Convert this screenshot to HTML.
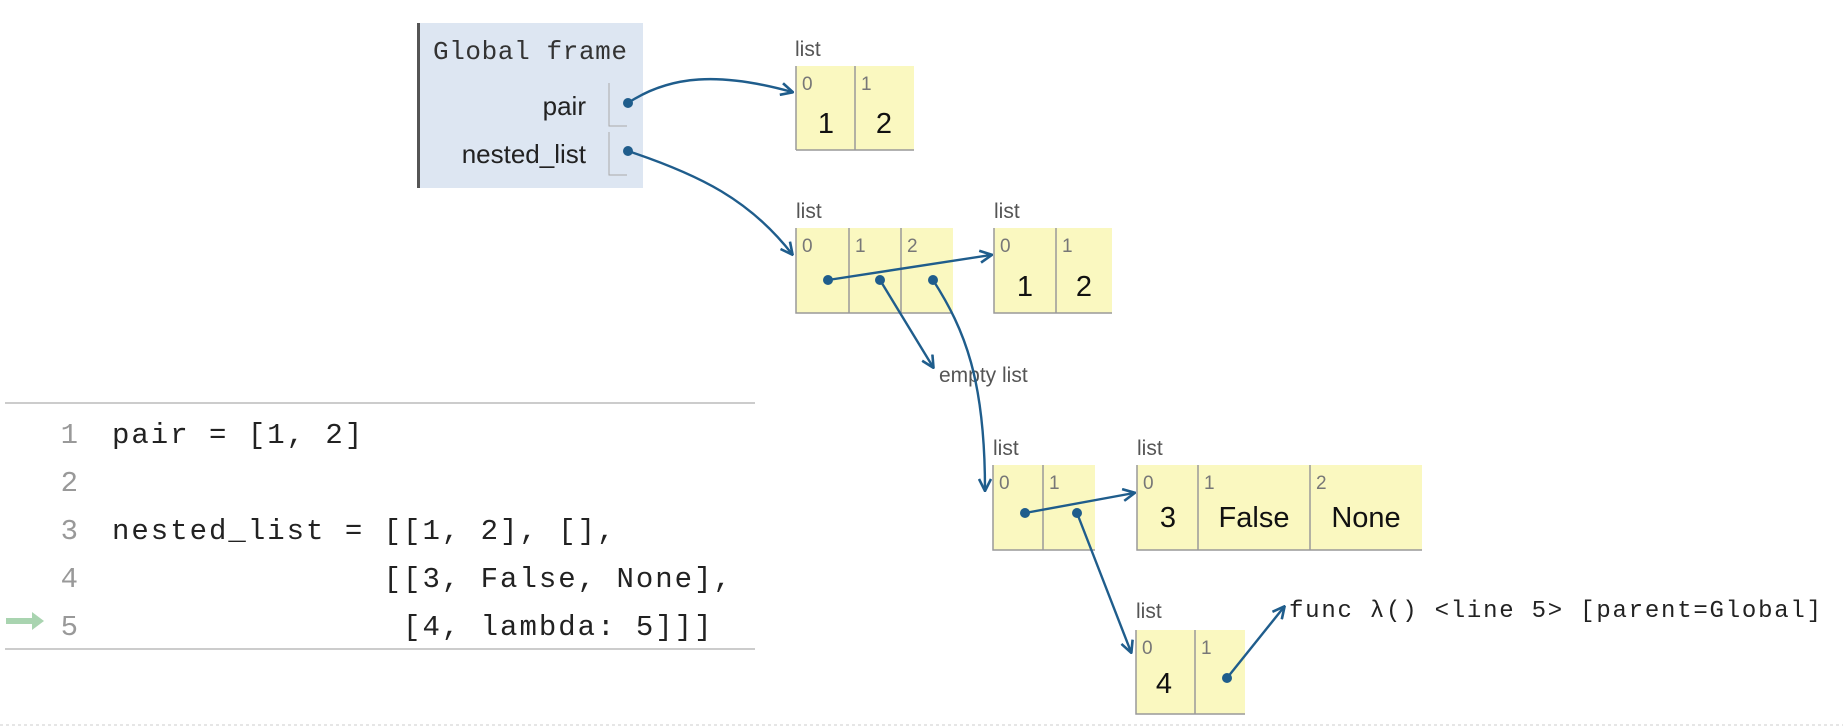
<!DOCTYPE html>
<html><head><meta charset="utf-8"><style>
html,body{margin:0;padding:0;background:#fff;width:1843px;height:728px;overflow:hidden}
svg{display:block}
.mono{font-family:"Liberation Mono",monospace}
.sans{font-family:"Liberation Sans",sans-serif}
.pre{white-space:pre}
</style></head><body>
<svg width="1843" height="728" viewBox="0 0 1843 728" xmlns="http://www.w3.org/2000/svg">
<defs>
<marker id="ah" viewBox="0 0 14 14" refX="12" refY="7" markerWidth="14" markerHeight="14" markerUnits="userSpaceOnUse" orient="auto">
<path d="M1,1 L13,7 L1,13" fill="none" stroke="#1f5d8c" stroke-width="2.6"/>
</marker>
</defs>
<!-- code panel -->
<line x1="5" y1="403" x2="755" y2="403" stroke="#ccc" stroke-width="2"/>
<line x1="5" y1="649" x2="755" y2="649" stroke="#ccc" stroke-width="2"/>
<line x1="0" y1="725" x2="1843" y2="725" stroke="#ddd" stroke-width="1.5" stroke-dasharray="3,3"/>
<g class="mono" font-size="29" fill="#999" text-anchor="end">
<text x="78" y="443">1</text><text x="78" y="491">2</text><text x="78" y="539">3</text><text x="78" y="587">4</text><text x="78" y="635">5</text>
</g>
<g class="mono pre" font-size="29" fill="#222" letter-spacing="2">
<text x="112" y="443" class="pre">pair = [1, 2]</text>
<text x="112" y="539" class="pre">nested_list = [[1, 2], [],</text>
<text x="112" y="587" class="pre">              [[3, False, None],</text>
<text x="112" y="635" class="pre">               [4, lambda: 5]]]</text>
</g>
<path d="M6,621 L34,621" stroke="#a9d4b0" stroke-width="6"/>
<path d="M32,612 L44,621 L32,630 Z" fill="#a9d4b0"/>

<!-- global frame -->
<rect x="417" y="23" width="226" height="165" fill="#dde6f2"/>
<rect x="417" y="23" width="3" height="165" fill="#555"/>
<text x="433" y="59" class="mono" font-size="26" fill="#333" textLength="194">Global frame</text>
<text x="586" y="115" class="sans" font-size="26" fill="#222" text-anchor="end">pair</text>
<text x="586" y="163" class="sans" font-size="26" fill="#222" text-anchor="end">nested_list</text>
<path d="M609,83 V126 H627 M609,132 V175 H627" fill="none" stroke="#aaa" stroke-width="1"/>

<g class="sans">
<!-- list1 -->
<text x="795" y="56" font-size="21" fill="#555">list</text>
<rect x="796" y="66" width="118" height="84" fill="#faf8c0"/>
<path d="M855,66 V150 M796,66 V150 M796,150 H914" stroke="#999" stroke-width="1.5" fill="none"/>
<text x="802" y="90" font-size="19" fill="#777">0</text><text x="861" y="90" font-size="19" fill="#777">1</text>
<text x="826" y="133" font-size="29" fill="#111" text-anchor="middle">1</text><text x="884" y="133" font-size="29" fill="#111" text-anchor="middle">2</text>

<!-- list2 -->
<text x="796" y="218" font-size="21" fill="#555">list</text>
<rect x="796" y="228" width="157" height="85" fill="#faf8c0"/>
<path d="M796,228 V313 H953 M849,228 V313 M901,228 V313" stroke="#999" stroke-width="1.5" fill="none"/>
<text x="802" y="252" font-size="19" fill="#777">0</text><text x="855" y="252" font-size="19" fill="#777">1</text><text x="907" y="252" font-size="19" fill="#777">2</text>

<!-- list3 -->
<text x="994" y="218" font-size="21" fill="#555">list</text>
<rect x="994" y="228" width="118" height="85" fill="#faf8c0"/>
<path d="M994,228 V313 H1112 M1056,228 V313" stroke="#999" stroke-width="1.5" fill="none"/>
<text x="1000" y="252" font-size="19" fill="#777">0</text><text x="1062" y="252" font-size="19" fill="#777">1</text>
<text x="1025" y="296" font-size="29" fill="#111" text-anchor="middle">1</text><text x="1084" y="296" font-size="29" fill="#111" text-anchor="middle">2</text>

<text x="939" y="382" font-size="21" fill="#555">empty list</text>

<!-- list4 -->
<text x="993" y="455" font-size="21" fill="#555">list</text>
<rect x="993" y="465" width="102" height="85" fill="#faf8c0"/>
<path d="M993,465 V550 H1095 M1043,465 V550" stroke="#999" stroke-width="1.5" fill="none"/>
<text x="999" y="489" font-size="19" fill="#777">0</text><text x="1049" y="489" font-size="19" fill="#777">1</text>

<!-- list5 -->
<text x="1137" y="455" font-size="21" fill="#555">list</text>
<rect x="1137" y="465" width="285" height="85" fill="#faf8c0"/>
<path d="M1137,465 V550 H1422 M1198,465 V550 M1310,465 V550" stroke="#999" stroke-width="1.5" fill="none"/>
<text x="1143" y="489" font-size="19" fill="#777">0</text><text x="1204" y="489" font-size="19" fill="#777">1</text><text x="1316" y="489" font-size="19" fill="#777">2</text>
<text x="1168" y="527" font-size="29" fill="#111" text-anchor="middle">3</text>
<text x="1254" y="527" font-size="29" fill="#111" text-anchor="middle">False</text>
<text x="1366" y="527" font-size="29" fill="#111" text-anchor="middle">None</text>

<!-- list6 -->
<text x="1136" y="618" font-size="21" fill="#555">list</text>
<rect x="1136" y="630" width="109" height="84" fill="#faf8c0"/>
<path d="M1136,630 V714 H1245 M1195,630 V714" stroke="#999" stroke-width="1.5" fill="none"/>
<text x="1142" y="654" font-size="19" fill="#777">0</text><text x="1201" y="654" font-size="19" fill="#777">1</text>
<text x="1164" y="693" font-size="29" fill="#111" text-anchor="middle">4</text>
</g>
<text x="1289" y="617" class="mono pre" font-size="24" fill="#222" textLength="532">func λ() &lt;line 5&gt; [parent=Global]</text>

<!-- arrows -->
<g fill="none" stroke="#1f5d8c" stroke-width="2.4" marker-end="url(#ah)">
<path d="M628,103 C670,75 720,72 792,92"/>
<path d="M628,151 C700,175 750,200 792,254"/>
<path d="M828,280 L991,255"/>
<path d="M880,280 L933,367"/>
<path d="M933,280 C965,330 985,380 985,490"/>
<path d="M1025,513 L1134,493"/>
<path d="M1077,513 L1131,652"/>
<path d="M1227,678 L1284,607"/>
</g>
<g fill="#1f5d8c">
<circle cx="628" cy="103" r="5"/><circle cx="628" cy="151" r="5"/>
<circle cx="828" cy="280" r="5"/><circle cx="880" cy="280" r="5"/><circle cx="933" cy="280" r="5"/>
<circle cx="1025" cy="513" r="5"/><circle cx="1077" cy="513" r="5"/>
<circle cx="1227" cy="678" r="5"/>
</g>
</svg>
</body></html>
